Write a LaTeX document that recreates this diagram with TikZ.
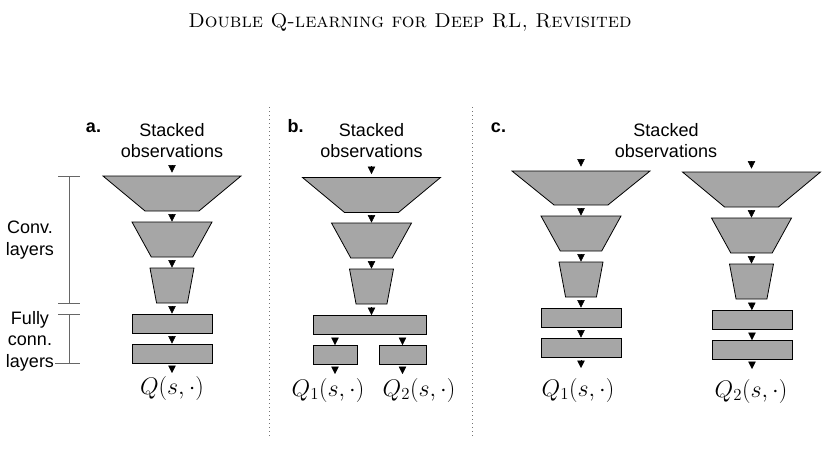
\documentclass[tikz,border=0pt]{standalone}
\usepackage{fix-cm}
\usepackage{fontspec}
\newfontfamily\helv{Liberation Sans}
\usetikzlibrary{shapes.geometric,arrows.meta}
\definecolor{layergray}{HTML}{A6A6A6}
\definecolor{bargray}{HTML}{666666}

\tikzset{
  layer/.style={draw=black, fill=layergray, line width=0.8pt, inner sep=0pt},
  conv/.style={layer, shape=trapezium, shape border rotate=180, inner sep=1pt,
    trapezium stretches=true, minimum height=35pt},
  convbig/.style={conv, minimum width=138pt, trapezium angle=52},
  convmid/.style={conv, minimum width=80pt, trapezium angle=65},
  convsmall/.style={conv, minimum width=44pt, trapezium angle=78},
  fc/.style={layer, rectangle, minimum height=19pt, minimum width=80pt},
  arr/.style={-{Triangle[width=7.5pt,length=7.5pt]}, line width=0.5pt, shorten <=3pt},
  lbl/.style={font=\helv\fontsize{18}{21.6}\selectfont, align=center, inner sep=0pt},
  tag/.style={font=\helv\bfseries\fontsize{18}{21.6}\selectfont, inner sep=0pt, anchor=base},
  qout/.style={font=\fontsize{24}{28}\selectfont, inner sep=0pt, anchor=north},
  bar/.style={draw=bargray, line width=1pt},
  sep/.style={draw=black!55, line width=0.9pt, dash pattern=on 1pt off 3pt}
}

\begin{document}
\begin{tikzpicture}[x=1pt,y=-1pt]
\useasboundingbox (0,0) rectangle (828,464);
% running head
\node (head) at (410,22) {\fontsize{20}{24}\selectfont\textsc{Double Q-learning for Deep RL, Revisited}};

% separators
\draw[sep] (269.5,107) -- (269.5,437);
\draw[sep] (472.5,107) -- (472.5,437);

% brackets on the left
\draw[bar] (58,176) -- (80,176) (69,176) -- (69,303) (58,303) -- (80,303);
\draw[bar] (58,314) -- (80,314) (69,314) -- (69,363) (55,363) -- (80,363);
\node[lbl] (convL) at (30,240) {Conv.\\layers};
\node[lbl] (fcL) at (30,341) {Fully\\conn.\\layers};

% panel a
\node[tag] (tagA) at (93.5,132) {a.};
\node[lbl,anchor=south] (obsA) at (172,158) {Stacked\\observations};
\node[convbig] (c1A) at (172,193.5) {};
\node[convmid] (c2A) at (172,239.5) {};
\node[convsmall] (c3A) at (172,285.5) {};
\node[fc] (f1A) at (172,323.5) {};
\node[fc] (f2A) at (172,353.5) {};
\node[qout] (qA) at (172,376) {$Q(s,\cdot)$};
\draw[arr,shorten <=8pt,shorten >=3pt] (obsA) -- (c1A);
\draw[arr] (c1A) -- (c2A);
\draw[arr] (c2A) -- (c3A);
\draw[arr] (c3A) -- (f1A);
\draw[arr] (f1A) -- (f2A);
\draw[arr,shorten >=3pt] (f2A) -- (qA);

% panel b
\node[tag] (tagB) at (295.5,132) {b.};
\node[lbl,anchor=south] (obsB) at (371.5,158) {Stacked\\observations};
\node[convbig] (c1B) at (371.5,195) {};
\node[convmid] (c2B) at (371.5,240.5) {};
\node[convsmall] (c3B) at (371.5,286.5) {};
\node[fc,minimum width=113pt] (fB) at (369.5,325) {};
\node[fc,minimum width=44pt] (s1B) at (335,355) {};
\node[fc,minimum width=47pt] (s2B) at (402.5,355) {};
\node[qout] (q1B) at (328,378) {$Q_1(s,\cdot)$};
\node[qout] (q2B) at (419,378) {$Q_2(s,\cdot)$};
\draw[arr,shorten <=8pt,shorten >=3pt] (obsB) -- (c1B);
\draw[arr] (c1B) -- (c2B);
\draw[arr] (c2B) -- (c3B);
\draw[arr] (c3B.south) -- (c3B.south |- fB.north);
\draw[arr] (fB.south -| s1B) -- (s1B);
\draw[arr] (fB.south -| s2B) -- (s2B);
\draw[arr,shorten >=4pt] (s1B.south) -- (s1B.south |- q1B.north);
\draw[arr,shorten >=4pt] (s2B.south) -- (s2B.south |- q2B.north);

% panel c
\node[tag] (tagC) at (498.5,132) {c.};
\node[lbl,anchor=south] (obsC) at (666,158) {Stacked\\observations};
\node[convbig,minimum height=34pt] (c1L) at (581,188) {};
\node[convmid] (c2L) at (581,233.5) {};
\node[convsmall] (c3L) at (581,279.5) {};
\node[fc] (f1L) at (581,317.5) {};
\node[fc] (f2L) at (581,347.5) {};
\node[qout] (qL) at (578,378) {$Q_1(s,\cdot)$};
\node[convbig] (c1R) at (751.5,189.5) {};
\node[convmid] (c2R) at (751.5,235.5) {};
\node[convsmall] (c3R) at (751.5,281.5) {};
\node[fc] (f1R) at (752,320) {};
\node[fc] (f2R) at (752,350) {};
\node[qout] (qR) at (751,379) {$Q_2(s,\cdot)$};
\draw[arr,shorten <=1.5pt,shorten >=4pt] (obsC.south -| c1L) -- (c1L);
\draw[arr,shorten <=3.5pt,shorten >=3pt] (obsC.south -| c1R) -- (c1R);
\draw[arr] (c1L) -- (c2L);
\draw[arr] (c2L) -- (c3L);
\draw[arr] (c3L) -- (f1L);
\draw[arr] (f1L) -- (f2L);
\draw[arr,shorten >=10pt] (f2L.south) -- (f2L.south |- qL.north);
\draw[arr] (c1R) -- (c2R);
\draw[arr] (c2R) -- (c3R);
\draw[arr] (c3R) -- (f1R);
\draw[arr] (f1R) -- (f2R);
\draw[arr,shorten >=10pt] (f2R.south) -- (f2R.south |- qR.north);
\end{tikzpicture}
\end{document}
